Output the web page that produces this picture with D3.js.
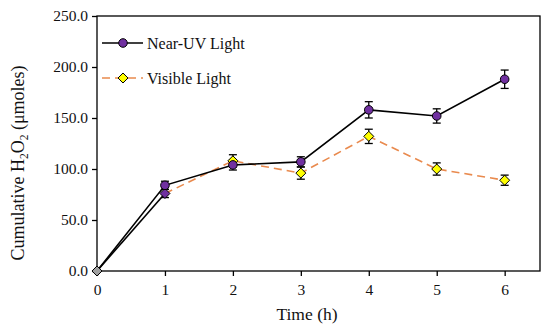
<!DOCTYPE html>
<html><head><meta charset="utf-8">
<script src="https://cdn.jsdelivr.net/npm/d3@7"></script>
<style>body{margin:0;background:#fff}svg text{font-family:"Palatino Linotype","Book Antiqua","Liberation Serif","DejaVu Serif",serif;fill:#111}</style>
</head><body><svg id="c" width="550" height="328"></svg>
<script>
const times = [0,1,2,3,4,5,6];
const nearUV = [0,84,104,107,158,152,188];
const nearUVErr = [0,4,5,5,8,7,9];
const visible = [0,76,108,96,132,100,89];
const visibleErr = [0,4,6,6,7,6,5];
const yTicks = [0,50,100,150,200,250];
const seriesNames = ["Near-UV Light","Visible Light"];

const svg = d3.select("#c");
const m = {l:97,t:16,r:540,b:271};
const x = d3.scaleLinear().domain([0,6.52]).range([m.l,m.r]);
const y = d3.scaleLinear().domain([0,250]).range([m.b,m.t]);

svg.append("rect").attr("x",m.l).attr("y",m.t).attr("width",m.r-m.l).attr("height",m.b-m.t)
  .attr("fill","none").attr("stroke","#000").attr("stroke-width",1.3);

const ya = svg.append("g").attr("transform",`translate(${m.l},0)`)
  .call(d3.axisLeft(y).tickValues(yTicks).tickFormat(d3.format(".1f")).tickSize(5).tickPadding(4));
const xa = svg.append("g").attr("transform",`translate(0,${m.b})`)
  .call(d3.axisBottom(x).tickValues(times).tickFormat(d3.format("d")).tickSize(5).tickPadding(8));
[ya,xa].forEach(a=>{a.select(".domain").remove();a.selectAll("line").attr("stroke","#000").attr("stroke-width",1.3);
  a.selectAll("text").attr("font-size",15.5).attr("fill","#111").style("font-family",'"Palatino Linotype","Book Antiqua","Liberation Serif",serif');});

svg.append("text").attr("x",307).attr("y",320).attr("text-anchor","middle").attr("font-size",17.5).text("Time (h)");
const yt = svg.append("text").attr("transform","translate(24,163) rotate(-90)").attr("text-anchor","middle").attr("font-size",18);
yt.append("tspan").text("Cumulative H");
yt.append("tspan").attr("font-size",11.5).attr("dy",4).text("2");
yt.append("tspan").attr("dy",-4).text("O");
yt.append("tspan").attr("font-size",11.5).attr("dy",4).text("2");
yt.append("tspan").attr("dy",-4).text(" (μmoles)");

const line = d3.line().x((d,i)=>x(times[i])).y(d=>y(d));
const purple="#7030A0", orange="#E98A4E", yellow="#FFFF00";

svg.append("path").datum(visible).attr("d",d3.line().x((d,i)=>x(times[i])).y(d=>y(d)).defined((d,i)=>i>=1))
  .attr("fill","none").attr("stroke",orange).attr("stroke-width",1.6).attr("stroke-dasharray","8,5");
svg.append("path").datum(visible).attr("d",d3.line().x((d,i)=>x(times[i])).y(d=>y(d)).defined((d,i)=>i<=1))
  .attr("fill","none").attr("stroke","#000").attr("stroke-width",1.6);
svg.append("path").datum(nearUV).attr("d",line).attr("fill","none").attr("stroke","#000").attr("stroke-width",1.6);

function errBars(vals,errs){
  const g=svg.append("g");
  vals.forEach((v,i)=>{ if(!errs[i])return;
    const cx=x(times[i]);
    g.append("line").attr("x1",cx).attr("x2",cx).attr("y1",y(v-errs[i])).attr("y2",y(v+errs[i])).attr("stroke","#000").attr("stroke-width",1.3);
    [v-errs[i],v+errs[i]].forEach(e=>g.append("line").attr("x1",cx-4).attr("x2",cx+4).attr("y1",y(e)).attr("y2",y(e)).attr("stroke","#000").attr("stroke-width",1.3));
  });
}
errBars(visible,visibleErr);
errBars(nearUV,nearUVErr);

const dia = "M0,-5L5,0L0,5L-5,0Z";
svg.append("g").selectAll("path").data(visible).join("path")
  .attr("d",dia).attr("transform",(d,i)=>`translate(${x(times[i])},${y(d)})`)
  .attr("fill",(d,i)=>i===0?"#a0a0a0":i===1?purple:yellow).attr("stroke","#000").attr("stroke-width",1);
svg.append("g").selectAll("circle").data(nearUV).join("circle")
  .attr("cx",(d,i)=>x(times[i])).attr("cy",d=>y(d)).attr("r",4.3)
  .attr("fill",purple).attr("stroke","#000").attr("stroke-width",1)
  .attr("opacity",(d,i)=>i===0?0:1);

const lg = svg.append("g");
lg.append("line").attr("x1",102).attr("x2",143).attr("y1",43).attr("y2",43).attr("stroke","#000").attr("stroke-width",1.6);
lg.append("circle").attr("cx",123).attr("cy",43).attr("r",4.3).attr("fill",purple).attr("stroke","#000");
lg.append("text").attr("x",147).attr("y",48.5).attr("font-size",16).text(seriesNames[0]);
lg.append("line").attr("x1",102).attr("x2",143).attr("y1",78).attr("y2",78).attr("stroke",orange).attr("stroke-width",1.6).attr("stroke-dasharray","8,5");
lg.append("path").attr("d",dia).attr("transform","translate(123,78)").attr("fill",yellow).attr("stroke","#000");
lg.append("text").attr("x",147).attr("y",83.5).attr("font-size",16).text(seriesNames[1]);
</script></body></html>
